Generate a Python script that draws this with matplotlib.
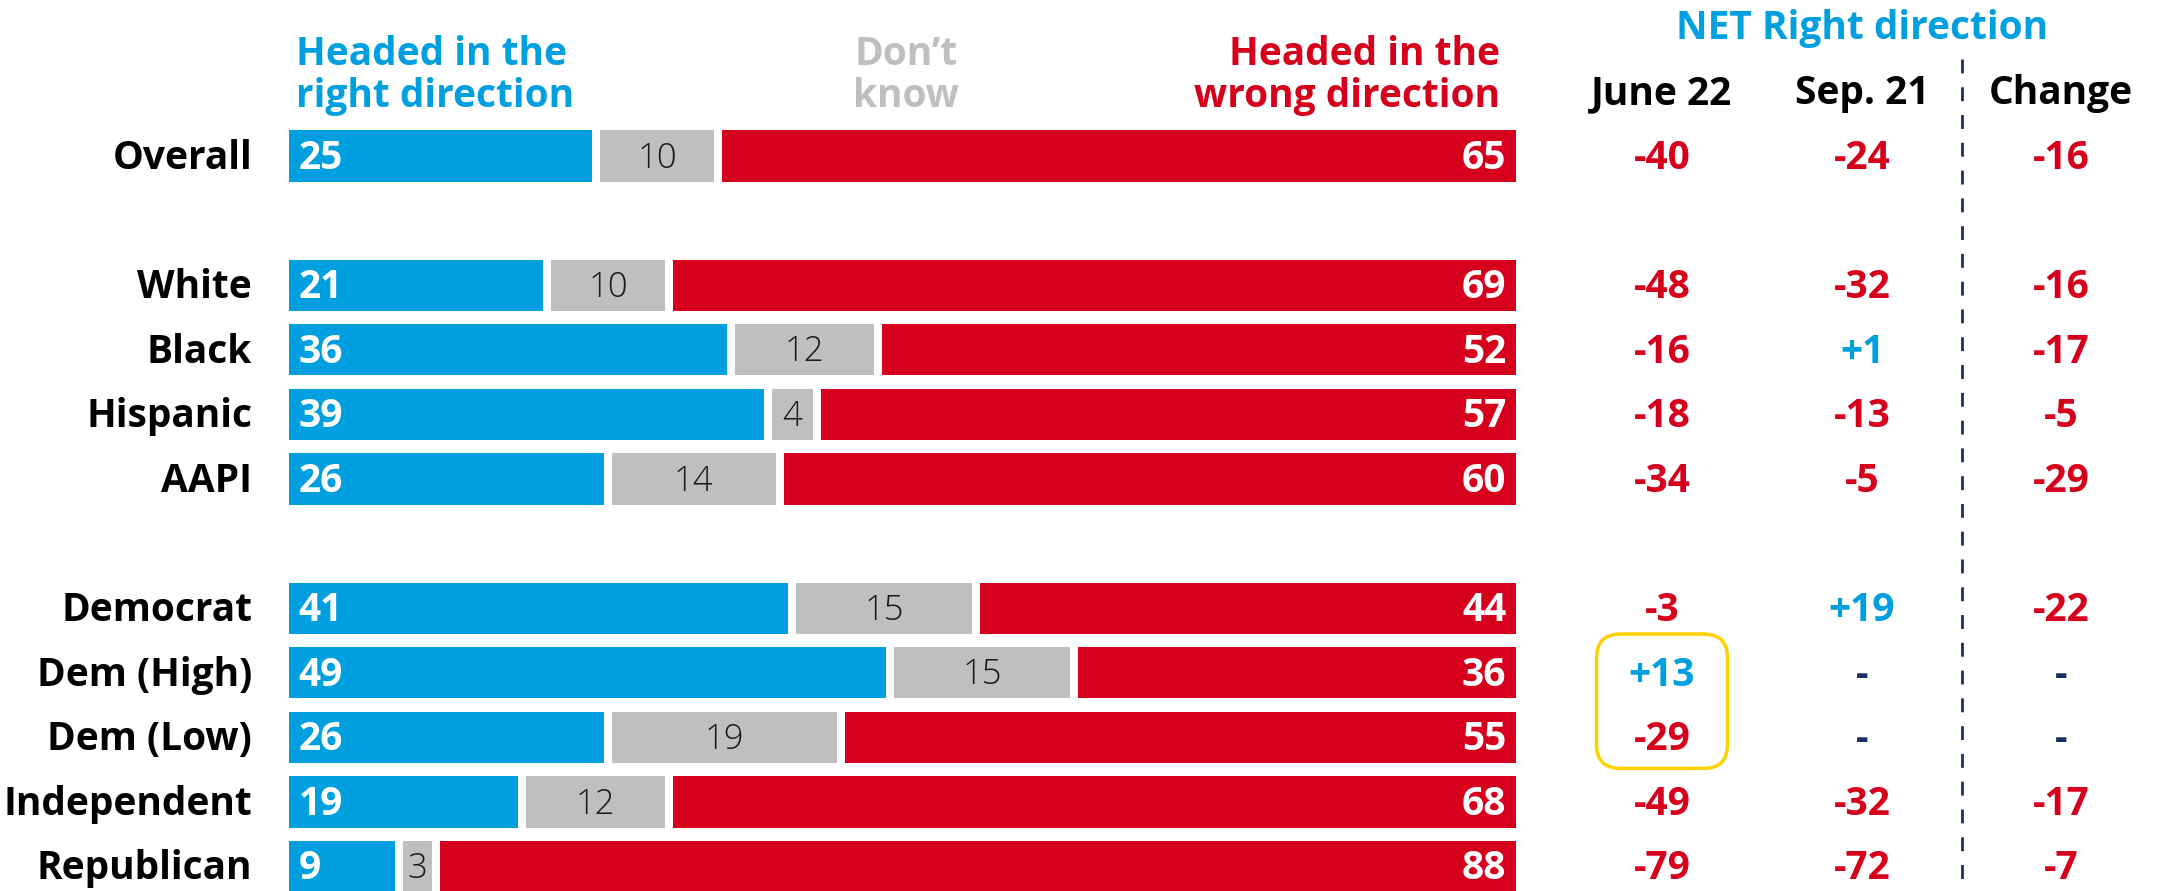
import matplotlib
matplotlib.use('Agg')
import matplotlib.pyplot as plt
from matplotlib import font_manager
from matplotlib.patches import FancyBboxPatch
from matplotlib.transforms import blended_transform_factory

# %% data
groups = [["Overall"],
          ["White", "Black", "Hispanic", "AAPI"],
          ["Democrat", "Dem (High)", "Dem (Low)", "Independent", "Republican"]]
right_dir = [25, 21, 36, 39, 26, 41, 49, 26, 19, 9]
dont_know = [10, 10, 12, 4, 14, 15, 15, 19, 12, 3]
wrong_dir = [65, 69, 52, 57, 60, 44, 36, 55, 68, 88]

net_cols = ["June 22", "Sep. 21", "Change"]
net_june22 = [-40, -48, -16, -18, -34, -3, 13, -29, -49, -79]
net_sep21 = [-24, -32, 1, -13, -5, 19, None, None, -32, -72]
net_change = [-16, -16, -17, -5, -29, -22, None, None, -17, -7]
highlight = ["Dem (High)", "Dem (Low)"]

# %% style
BLUE = '#009FDF'
RED = '#D6001C'
GRAY = '#BFBFBF'
NAVY = '#1B2F63'
GOLD = '#FFD100'

names = {f.name for f in font_manager.fontManager.ttflist}
font = next(f for f in ['Open Sans', 'Roboto', 'DejaVu Sans'] if f in names)
plt.rcParams['font.family'] = [font, 'DejaVu Sans']
FS = 28

W, H, DPI = 2159, 891, 100
fig = plt.figure(figsize=(W / DPI, H / DPI), dpi=DPI)
ax = fig.add_axes([0, 0, 1, 1])
ax.axis('off')

# layout: bar start pixel, px per unit, row pitch
x0_px, unit_px = 289, 12.27
y0_px, pitch_px = 156, 64.6
gap = 0.65
ax.set_xlim(-x0_px / unit_px, (W - x0_px) / unit_px)
ax.set_ylim((H - y0_px) / pitch_px, -y0_px / pitch_px)

# row positions, one empty row between groups
categories, pos = [], []
p = 0
for g in groups:
    for c in g:
        categories.append(c)
        pos.append(p)
        p += 1
    p += 1

bh = 0.79
dy = 0.035  # optical nudge: text bbox includes descender space
for i, y in enumerate(pos):
    r, d, w = right_dir[i], dont_know[i], wrong_dir[i]
    # segments sit on cumulative positions, white gap centred on each boundary;
    # "wrong" fills the rest of the 100% bar
    ax.barh(y, r - gap / 2, left=0, height=bh, color=BLUE)
    ax.barh(y, d - gap, left=r + gap / 2, height=bh, color=GRAY)
    ax.barh(y, 100 - r - d - gap / 2, left=r + d + gap / 2, height=bh, color=RED)
    ty = y + dy
    ax.text(0.8, ty, str(r), color='white', fontsize=FS, fontweight='bold',
            ha='left', va='center')
    ax.text(r + d / 2, ty, str(d), color='#1a1a1a', fontsize=FS - 3,
            fontweight='light', ha='center', va='center')
    ax.text(100 - 0.8, ty, str(w), color='white', fontsize=FS,
            fontweight='bold', ha='right', va='center')
    ax.text(-3.0, ty, categories[i], color='black', fontsize=FS,
            fontweight='bold', ha='right', va='center')

# %% headers over bars
hy = -1.24
ax.text(0.6, hy, 'Headed in the\nright direction', color=BLUE, fontsize=FS,
        fontweight='bold', ha='left', va='center', linespacing=1.1)
ax.text(50.3, hy, 'Don\u2019t\nknow', color=GRAY, fontsize=FS,
        fontweight='bold', ha='center', va='center', linespacing=1.1)
ax.text(98.7, hy, 'Headed in the\nwrong direction', color=RED,
        fontsize=FS, fontweight='bold', ha='right', va='center',
        multialignment='right', linespacing=1.1)

# %% NET columns
tr = blended_transform_factory(fig.transFigure, ax.transData)
col_x = [1662 / W, 1862 / W, 2061 / W]
ax.text(1862 / W, -1.98, 'NET Right direction', transform=tr, color=BLUE,
        fontsize=FS, fontweight='bold', ha='center', va='center')
for x, name in zip(col_x, net_cols):
    ax.text(x, -0.97, name, transform=tr, color='black', fontsize=FS,
            fontweight='bold', ha='center', va='center')

for x, vals in zip(col_x, [net_june22, net_sep21, net_change]):
    for y, v in zip(pos, vals):
        if v is None:
            s, c = '-', NAVY
        elif v > 0:
            s, c = f'+{v}', BLUE
        else:
            s, c = f'{v}', RED
        ax.text(x, y + dy, s, transform=tr, color=c, fontsize=FS,
                fontweight='bold', ha='center', va='center')

# dashed separator before "Change"
ax.plot([1962 / W, 1962 / W], [-1.5, ax.get_ylim()[0]], transform=tr,
        color=NAVY, lw=2, ls=(0, (5, 5)), clip_on=False)

# %% highlight box around Dem (High)/(Low) June values
hi = [pos[categories.index(c)] for c in highlight]
_, ytop = ax.transData.transform((0, min(hi) - 0.6))
_, ybot = ax.transData.transform((0, max(hi) + 0.48))
bw = 131
box = FancyBboxPatch(((col_x[0] * W - bw / 2) / DPI, ybot / DPI),
                     bw / DPI, (ytop - ybot) / DPI,
                     boxstyle='round,pad=0,rounding_size=0.24',
                     transform=fig.dpi_scale_trans, fill=False,
                     edgecolor=GOLD, lw=2.5)
fig.patches.append(box)

fig.savefig('out.png', dpi=DPI)
